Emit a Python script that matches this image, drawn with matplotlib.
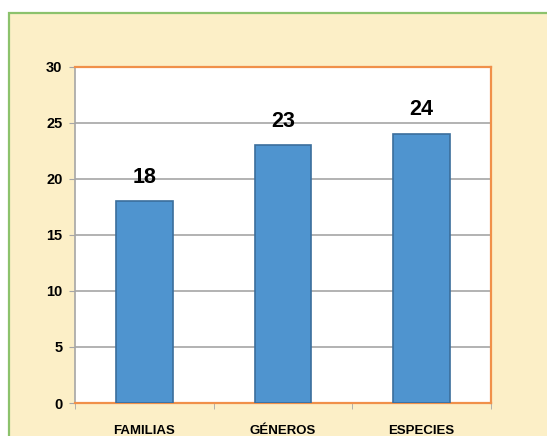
import matplotlib.pyplot as plt
from matplotlib.patches import Rectangle

# data
categories = ["FAMILIAS", "GÉNEROS", "ESPECIES"]
counts = [18, 23, 24]
y_ticks = [0, 5, 10, 15, 20, 25, 30]

plt.rcParams['font.family'] = ['Liberation Sans', 'DejaVu Sans']

fig = plt.figure(figsize=(5.47, 4.36), dpi=100)
fig.patch.set_facecolor("white")

# cream panel with green frame behind the plot
panel = Rectangle((9 / 547, -0.05), 1.0, (436 - 13) / 436 + 0.05,
                  transform=fig.transFigure, facecolor="#FCEFC7",
                  edgecolor="#8CC26C", linewidth=1.6, zorder=-5)
fig.patches.append(panel)

ax = fig.add_axes([75 / 547, 1 - 403 / 436, (491 - 75) / 547, (403 - 67) / 436])
ax.set_zorder(1)
ax.set_facecolor("white")

x = list(range(len(categories)))
bars = ax.bar(x, counts, width=0.41, color="#4F94CF", edgecolor="#3B6E9C",
              linewidth=1.2, zorder=3)

for b, v in zip(bars, counts):
    ax.annotate(str(v), (b.get_x() + b.get_width() / 2, v),
                xytext=(0, 10), textcoords="offset points",
                ha="center", va="bottom", fontsize=15.5, fontweight="bold",
                color="black")

ax.set_xlim(-0.5, len(categories) - 0.5)
ax.set_ylim(0, 30)
ax.set_yticks(y_ticks)
ax.yaxis.grid(True, color="#A6A6A6", linewidth=1.2, zorder=0)
ax.set_axisbelow(True)

ax.set_xticks(x)
ax.set_xticklabels(categories, fontsize=9.5, fontweight="bold")
ax.tick_params(axis="x", which="major", length=0, pad=16)
ax.set_xticks([-0.5, 0.5, 1.5, 2.5], minor=True)
ax.tick_params(axis="x", which="minor", length=4, color="#A6A6A6")
ax.tick_params(axis="y", length=4, color="#A6A6A6", labelsize=10.5, pad=5)
for lab in ax.get_yticklabels():
    lab.set_fontweight("bold")

for side in ["top", "right", "bottom"]:
    ax.spines[side].set_color("#F0904A")
    ax.spines[side].set_linewidth(1.6)
ax.spines["left"].set_color("#A6A6A6")
ax.spines["left"].set_linewidth(1.2)

fig.savefig("out.png", dpi=100)
